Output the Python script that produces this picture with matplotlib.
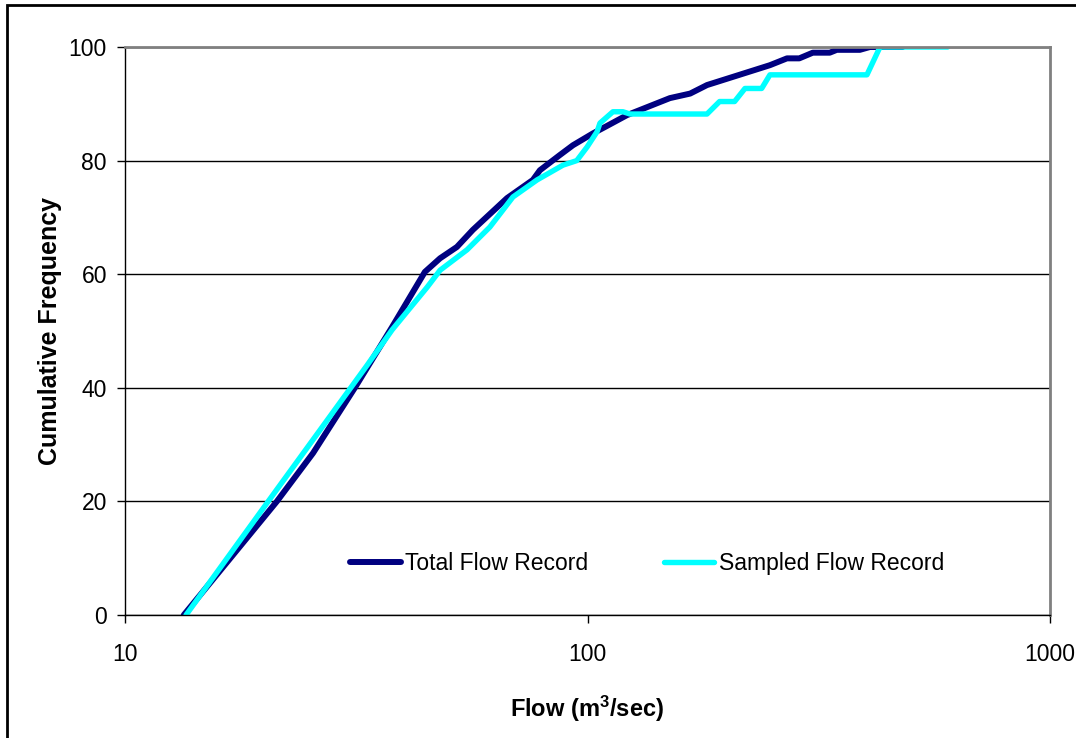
import matplotlib
matplotlib.use('Agg')
import matplotlib.pyplot as plt
from matplotlib.patches import Rectangle

plt.rcParams['font.family'] = ['Liberation Sans', 'DejaVu Sans']
plt.rcParams['mathtext.default'] = 'regular'

# flow duration curves (flow in m3/sec, cumulative frequency in %)
total_flow = [13.4, 21.3, 25.5, 31.4, 37.8, 44.5, 48.0, 52.2, 56.5, 67.0, 76.2,
              78.9, 87.2, 93.0, 102.8, 109, 121.7, 150.7, 166.7, 181.3, 248, 270,
              287, 307, 334, 346, 388, 408, 480]
total_freq = [0, 20, 28.5, 40, 50.7, 60.4, 62.8, 64.8, 67.8, 73.4, 76.6,
              78.3, 81.0, 82.7, 84.8, 85.9, 88.0, 91.0, 91.8, 93.3, 96.8, 98.0,
              98.0, 99.0, 99.0, 99.5, 99.5, 100, 100]

sampled_flow = [13.55, 20.4, 33.4, 37.8, 45, 48.0, 54.9, 61.5, 69.0, 77.8, 88.5,
                94.8, 99.8, 104.9, 106.4, 113.5, 119.3, 123.6, 181.3, 193, 208,
                219, 238, 248, 402, 429, 601]
sampled_freq = [0, 20, 44, 50.2, 57.7, 60.7, 64.3, 68.3, 73.6, 76.6, 79.2,
                80.0, 82.4, 85.1, 86.6, 88.6, 88.6, 88.2, 88.2, 90.4, 90.4,
                92.7, 92.7, 95.1, 95.1, 100, 100]

y_ticks = [0, 20, 40, 60, 80, 100]
x_ticks = [10, 100, 1000]

fig = plt.figure(figsize=(10.76, 7.38), dpi=100)
ax = fig.add_axes([125 / 1076, 123 / 738, 925 / 1076, 568 / 738])

ax.plot(total_flow, total_freq, color='#000080', lw=4.3,
        solid_capstyle='round', solid_joinstyle='round', label='Total Flow Record')
ax.plot(sampled_flow, sampled_freq, color='#00FFFF', lw=3.9,
        solid_capstyle='round', solid_joinstyle='round', label='Sampled Flow Record')

ax.set_xscale('log')
ax.set_xlim(10, 1000)
ax.set_ylim(0, 100)
ax.set_xticks(x_ticks)
ax.set_xticklabels([str(v) for v in x_ticks])
ax.xaxis.set_minor_locator(matplotlib.ticker.NullLocator())
ax.set_yticks(y_ticks)

ax.tick_params(axis='both', labelsize=16.5, length=6, width=1, color='black')
ax.tick_params(axis='x', pad=14)
ax.tick_params(axis='y', pad=7)

ax.yaxis.grid(True, color='black', lw=1)
ax.set_axisbelow(True)
for side in ['top', 'right']:
    ax.spines[side].set_color('#808080')
    ax.spines[side].set_linewidth(2)
for side in ['left', 'bottom']:
    ax.spines[side].set_color('black')
    ax.spines[side].set_linewidth(1)

ax.set_xlabel('Flow (m$^3$/sec)', fontsize=17, fontweight='bold', labelpad=20)
ax.set_ylabel('Cumulative Frequency', fontsize=18, fontweight='bold', labelpad=5)

ax.legend(loc='center', bbox_to_anchor=(0.5645, 0.0915), ncol=2, frameon=False,
          fontsize=16.5, handlelength=2.2, handletextpad=0.2, columnspacing=3.3)

# outer chart border
fig.patches.append(Rectangle((7 / 1076, -0.1), 2, 0.1 + 733 / 738,
                             transform=fig.transFigure, fill=False,
                             edgecolor='black', lw=2))

fig.savefig('out.png', dpi=100)
